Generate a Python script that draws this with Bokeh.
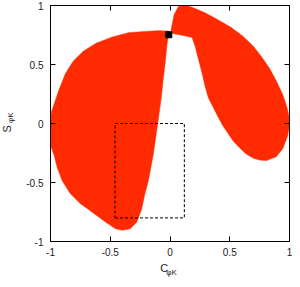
import math
from bokeh.plotting import figure
from bokeh.models import Range1d, FixedTicker, LinearAxis, Label
from bokeh.embed import file_html
from bokeh.resources import INLINE

# Allowed region 1 (left lobe) boundary: C_phiK, S_phiK
region1_c = [-0.006, -0.10, -0.211, -0.347, -0.482, -0.618, -0.726, -0.807, -0.875,
             -0.929, -0.965, -0.992, -1.0, -1.0, -0.970, -0.943, -0.902, -0.835,
             -0.754, -0.645, -0.537, -0.455, -0.401, -0.333, -0.279, -0.238,
             -0.211, -0.181, -0.160, -0.141, -0.114, -0.095, -0.073, -0.059,
             -0.040, -0.024, -0.006]
region1_s = [0.783, 0.787, 0.780, 0.770, 0.734, 0.680, 0.612, 0.531, 0.423,
             0.287, 0.179, 0.098, 0.043, -0.187, -0.268, -0.376, -0.485, -0.593,
             -0.675, -0.756, -0.837, -0.892, -0.905, -0.892, -0.837, -0.729,
             -0.600, -0.485, -0.370, -0.268, -0.079, 0.057, 0.220, 0.355,
             0.520, 0.680, 0.775]

# Allowed region 2 (right lobe) boundary
region2_c = [0.076, 0.144, 0.220, 0.293, 0.400, 0.510, 0.610, 0.699, 0.770, 0.835,
             0.890, 0.943, 0.975, 0.997, 1.0, 0.984, 0.943, 0.889, 0.807, 0.750,
             0.699, 0.640, 0.591, 0.530, 0.482, 0.440, 0.405, 0.360, 0.320,
             0.290, 0.266, 0.238, 0.211, 0.185, 0.103, 0.022, 0.008, 0.035]
region2_s = [1.0, 1.0, 0.970, 0.938, 0.880, 0.815, 0.740, 0.653, 0.560, 0.463,
             0.360, 0.246, 0.150, 0.057, -0.020, -0.106, -0.214, -0.282, -0.314, -0.310,
             -0.295, -0.260, -0.214, -0.150, -0.079, -0.015, 0.050, 0.140, 0.220,
             0.330, 0.437, 0.545, 0.653, 0.729, 0.748, 0.762, 0.789, 0.924]

# Dashed box (C range, S range)
box_c = [-0.46, 0.12]
box_s = [-0.80, 0.0]

# Black square point
point_c = [-0.01]
point_s = [0.752]

ticks = [-1, -0.5, 0, 0.5, 1]
tick_labels = ["-1", "-0.5", "0", "0.5", "1"]

RED = "#ff2a00"
FONT = "Liberation Sans"
TXT = "#222222"

W, H = 292, 279
BL, BR, BT, BB = 50, 3, 5, 36
FW, FH = W - BL - BR, H - BT - BB

p = figure(width=W, height=H, x_range=Range1d(-1, 1), y_range=Range1d(-1, 1),
           output_backend="svg", toolbar_location=None,
           min_border_left=BL, min_border_right=BR, min_border_top=BT, min_border_bottom=BB,
           background_fill_color="white", border_fill_color="white")
p.grid.visible = False
p.outline_line_color = "black"

p.patch(region1_c, region1_s, fill_color=RED, line_color=RED, line_width=0.5)
p.patch(region2_c, region2_s, fill_color=RED, line_color=RED, line_width=0.5)

bx = [box_c[0], box_c[1], box_c[1], box_c[0], box_c[0]]
by = [box_s[0], box_s[0], box_s[1], box_s[1], box_s[0]]
p.line(bx, by, line_color="black", line_width=1, line_dash="3 2")

p.scatter(point_c, point_s, marker="square", size=6, fill_color="black", line_color="black")

overrides = {t: l for t, l in zip(ticks, tick_labels)}

def style_axis(ax, show_labels):
    ax.ticker = FixedTicker(ticks=ticks)
    ax.major_label_overrides = dict(overrides)
    ax.major_tick_in = 5
    ax.major_tick_out = 0
    ax.minor_tick_in = 0
    ax.minor_tick_out = 0
    ax.axis_line_color = "black"
    ax.major_tick_line_color = "black"
    ax.axis_line_width = 1
    if show_labels:
        ax.major_label_text_font = FONT
        ax.major_label_text_font_size = "10px"
        ax.major_label_text_color = TXT
    else:
        ax.major_label_text_font_size = "0px"
        ax.major_label_standoff = 0
        ax.major_label_text_color = None

xa = p.xaxis[0]
ya = p.yaxis[0]
style_axis(xa, True)
style_axis(ya, True)
xa.major_label_standoff = 6
ya.major_label_standoff = 7

top = LinearAxis()
right = LinearAxis()
style_axis(top, False)
style_axis(right, False)
p.add_layout(top, "above")
p.add_layout(right, "right")

# helpers: canvas pixel -> data coordinate (for placing axis titles)
def dx(px):
    return (px - BL) / FW * 2 - 1

def dy(py):
    return 1 - (py - BT) / FH * 2

def lab(px, py, text, size, angle=0.0):
    return Label(x=dx(px), y=dy(py), text=text, text_font=FONT, text_font_size=size,
                 angle=angle, text_align="center", text_baseline="middle",
                 text_color=TXT)

p.add_layout(lab(163.6, 270, "C", "11px"), "below")
p.add_layout(lab(171.0, 274, "\u03c6K", "8px"), "below")
p.add_layout(lab(6.0, 129.4, "S", "11px", math.pi / 2), "left")
p.add_layout(lab(9.5, 118.2, "\u03c6K", "8px", math.pi / 2), "left")

open("out.html", "w").write(file_html(p, INLINE))
